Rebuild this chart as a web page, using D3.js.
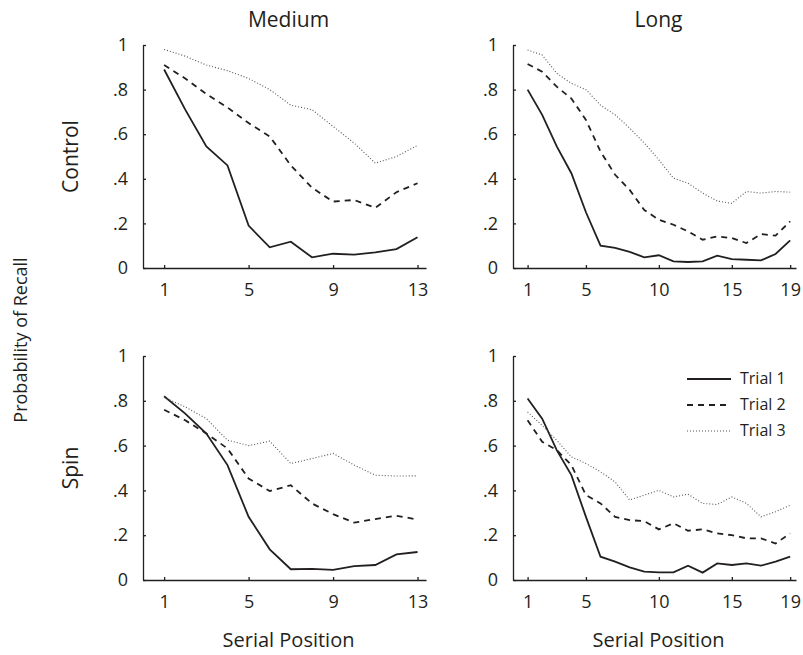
<html>
<head>
<meta charset="utf-8">
<title>Probability of Recall</title>
<style>
  body { margin: 0; background: #fff; }
  svg text { font-family: 'Open Sans', 'Noto Sans', sans-serif; fill: #231f20; }
</style>
<script src="https://cdnjs.cloudflare.com/ajax/libs/d3/7.8.5/d3.min.js"></script>
</head>
<body>
<div id="plot"></div>
<script>
var lengths = ["Medium", "Long"];
var conditions = ["Control", "Spin"];
var trials = ["Trial 1", "Trial 2", "Trial 3"];
var yTicks = [0, 0.2, 0.4, 0.6, 0.8, 1];
var yTickLabels = ["0", ".2", ".4", ".6", ".8", "1"];
var xTicksMedium = [1, 5, 9, 13];
var xTicksLong = [1, 5, 10, 15, 19];

// Medium list, control condition
var medControl1 = [0.89, 0.71, 0.545, 0.46, 0.19, 0.093, 0.118, 0.048, 0.064, 0.06, 0.07, 0.085, 0.138];
var medControl2 = [0.91, 0.85, 0.78, 0.72, 0.65, 0.59, 0.46, 0.36, 0.298, 0.305, 0.27, 0.34, 0.38];
var medControl3 = [0.98, 0.95, 0.91, 0.885, 0.85, 0.8, 0.73, 0.71, 0.635, 0.56, 0.47, 0.5, 0.55];

// Long list, control condition
var longControl1 = [0.80, 0.687, 0.545, 0.425, 0.25, 0.10, 0.09, 0.072, 0.048, 0.057, 0.03, 0.027, 0.03, 0.055, 0.04, 0.037, 0.034, 0.063, 0.124];
var longControl2 = [0.915, 0.88, 0.813, 0.76, 0.664, 0.522, 0.418, 0.35, 0.26, 0.216, 0.194, 0.164, 0.127, 0.142, 0.134, 0.112, 0.152, 0.145, 0.209];
var longControl3 = [0.978, 0.955, 0.873, 0.828, 0.80, 0.73, 0.687, 0.627, 0.56, 0.485, 0.403, 0.38, 0.336, 0.30, 0.29, 0.343, 0.336, 0.343, 0.34];

// Medium list, spin condition
var medSpin1 = [0.82, 0.743, 0.654, 0.513, 0.282, 0.137, 0.048, 0.05, 0.045, 0.062, 0.067, 0.114, 0.125];
var medSpin2 = [0.76, 0.713, 0.654, 0.587, 0.453, 0.397, 0.423, 0.342, 0.294, 0.256, 0.272, 0.287, 0.27];
var medSpin3 = [0.815, 0.773, 0.72, 0.624, 0.60, 0.62, 0.52, 0.542, 0.565, 0.513, 0.468, 0.464, 0.465];

// Long list, spin condition
var longSpin1 = [0.81, 0.72, 0.58, 0.468, 0.282, 0.104, 0.082, 0.056, 0.037, 0.034, 0.034, 0.064, 0.033, 0.074, 0.067, 0.074, 0.064, 0.082, 0.104];
var longSpin2 = [0.713, 0.617, 0.58, 0.513, 0.379, 0.342, 0.282, 0.267, 0.263, 0.226, 0.253, 0.22, 0.226, 0.208, 0.20, 0.186, 0.186, 0.163, 0.208];
var longSpin3 = [0.75, 0.69, 0.624, 0.55, 0.52, 0.483, 0.438, 0.357, 0.379, 0.40, 0.371, 0.383, 0.342, 0.337, 0.371, 0.342, 0.282, 0.305, 0.334];

var w = 803, h = 655;
var panels = [
  { col: 0, row: 0, series: [medControl1, medControl2, medControl3], ticks: xTicksMedium },
  { col: 1, row: 0, series: [longControl1, longControl2, longControl3], ticks: xTicksLong },
  { col: 0, row: 1, series: [medSpin1, medSpin2, medSpin3], ticks: xTicksMedium },
  { col: 1, row: 1, series: [longSpin1, longSpin2, longSpin3], ticks: xTicksLong }
];
var colX = [143, 513], panelW = 283;
var rowY = [[268, 45], [580, 356]];
var styles = [
  { dash: null, width: 1.8, color: "#231f20" },
  { dash: "6,5", width: 1.8, color: "#231f20" },
  { dash: "1,2", width: 1.1, color: "#555" }
];

var svg = d3.select("#plot").append("svg").attr("width", w).attr("height", h);

panels.forEach(function(p) {
  var n = p.series[0].length;
  var x = d3.scaleLinear().domain([0, n + 0.4]).range([colX[p.col], colX[p.col] + panelW]);
  var y = d3.scaleLinear().domain([0, 1]).range(rowY[p.row]);
  var g = svg.append("g");

  var xa = g.append("g").attr("transform", "translate(0," + y(0) + ")")
    .call(d3.axisBottom(x).tickValues(p.ticks).tickSizeInner(-3).tickSizeOuter(0).tickPadding(15));
  var ya = g.append("g").attr("transform", "translate(" + x(0) + ",0)")
    .call(d3.axisLeft(y).tickValues(yTicks).tickFormat(function(d, i) { return yTickLabels[i]; })
      .tickSizeInner(-3).tickSizeOuter(0).tickPadding(15));
  [xa, ya].forEach(function(a) {
    a.selectAll("path, line").attr("stroke", "#231f20").attr("stroke-width", 1.3);
    a.selectAll("text").attr("font-size", 18).attr("fill", "#231f20");
  });

  var line = d3.line().x(function(d, i) { return x(i + 1); }).y(function(d) { return y(d); });
  p.series.forEach(function(s, k) {
    g.append("path").datum(s).attr("d", line).attr("fill", "none")
      .attr("stroke", styles[k].color).attr("stroke-width", styles[k].width)
      .attr("stroke-dasharray", styles[k].dash);
  });
});

// column titles and x labels
lengths.forEach(function(t, c) {
  var cx = colX[c] + panelW / 2 + 4;
  svg.append("text").attr("x", cx).attr("y", 27).attr("text-anchor", "middle").attr("font-size", 21).text(t);
  svg.append("text").attr("x", cx).attr("y", 647).attr("text-anchor", "middle").attr("font-size", 20).text("Serial Position");
});

// row labels
conditions.forEach(function(t, r) {
  var cy = (rowY[r][0] + rowY[r][1]) / 2;
  svg.append("text").attr("transform", "translate(78," + cy + ") rotate(-90)")
    .attr("text-anchor", "middle").attr("font-size", 21).text(t);
});
svg.append("text").attr("transform", "translate(27,340) rotate(-90)")
  .attr("text-anchor", "middle").attr("font-size", 18).text("Probability of Recall");

// legend
var lg = svg.append("g");
trials.forEach(function(t, k) {
  var ly = 379 + k * 26;
  lg.append("line").attr("x1", 687).attr("x2", 731).attr("y1", ly).attr("y2", ly)
    .attr("stroke", styles[k].color).attr("stroke-width", styles[k].width)
    .attr("stroke-dasharray", styles[k].dash);
  lg.append("text").attr("x", 740).attr("y", ly + 5).attr("font-size", 16).text(t);
});
</script>
</body>
</html>
